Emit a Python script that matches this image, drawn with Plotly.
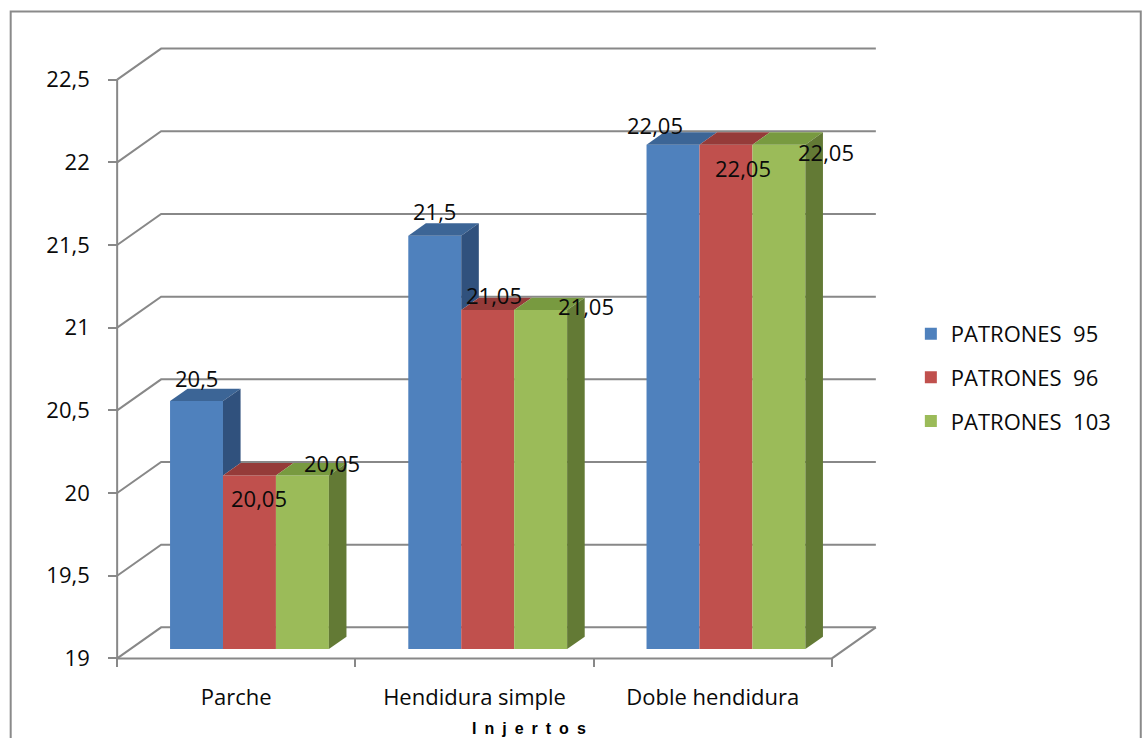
import plotly.graph_objects as go

# ---- data -------------------------------------------------------------
categories = ["Parche", "Hendidura simple", "Doble hendidura"]
series_names = ["PATRONES\u00a0 95", "PATRONES\u00a0 96", "PATRONES\u00a0 103"]
patrones_95 = [20.5, 21.5, 22.05]
patrones_96 = [20.05, 21.05, 22.05]
patrones_103 = [20.05, 21.05, 22.05]
y_ticks = [19, 19.5, 20, 20.5, 21, 21.5, 22, 22.5]
axis_title = "\u2002".join("Injertos")

series_values = [patrones_95, patrones_96, patrones_103]

# ---- styling ----------------------------------------------------------
front_colors = ["#4F81BD", "#C0504D", "#9BBB59"]
top_colors = ["#3C6596", "#953B39", "#789A40"]
side_colors = ["#30517D", "#7E3230", "#637A35"]
grid_color = "#888888"
text_color = "#0A0A0A"
FONT = "Open Sans"

# ---- 3D (oblique) geometry, in axis units -----------------------------
W, H = 1146, 738
PX_X = 238.33          # pixels per category step
PX_Y = 165.14          # pixels per value unit
X_AXIS_PX = 117        # pixel column of the front value axis (x = -0.5)
Y_BASE_PX = 658        # pixel row of the front floor edge (y = 19)
DEPTH_X = 44 / PX_X    # full depth of the box, category units
DEPTH_Y = 31 / PX_Y    # full depth of the box, value units
FRONT_GAP = 0.3        # depth fraction in front of the bars
BAR_DEPTH = 0.4        # depth fraction taken by the bars
BAR_W = 1 / 4.5        # 3 bars + 150 % gap per category
PAD_X, PAD_Y = 0.03, 0.04

Y_MIN, Y_MAX = y_ticks[0], y_ticks[-1]
X_LEFT, X_RIGHT = -0.5, len(categories) - 0.5

x0r, x1r = X_LEFT - PAD_X, X_RIGHT + DEPTH_X + PAD_X
y0r, y1r = Y_MIN - PAD_Y, Y_MAX + DEPTH_Y + PAD_Y

m_l = X_AXIS_PX - PAD_X * PX_X
plot_w = (x1r - x0r) * PX_X
m_r = W - m_l - plot_w
m_b = H - (Y_BASE_PX + PAD_Y * PX_Y)
plot_h = (y1r - y0r) * PX_Y
m_t = H - m_b - plot_h


def paper_x(px):
    return (px - m_l) / plot_w


def paper_y(py):
    return (H - m_b - py) / plot_h


fig = go.Figure()

# ---- walls: gridlines on the back wall, floor, front value axis -------
shapes = []
for v in y_ticks:
    shapes.append(dict(
        type="path", layer="below", xref="x", yref="y",
        path=f"M{X_LEFT},{v} L{X_LEFT + DEPTH_X},{v + DEPTH_Y} L{X_RIGHT + DEPTH_X},{v + DEPTH_Y}",
        line=dict(color=grid_color, width=2)))
shapes.append(dict(
    type="path", layer="below", xref="x", yref="y",
    path=f"M{X_LEFT},{Y_MIN} L{X_RIGHT},{Y_MIN} L{X_RIGHT + DEPTH_X},{Y_MIN + DEPTH_Y}",
    line=dict(color=grid_color, width=2)))
shapes.append(dict(
    type="line", layer="below", xref="x", yref="y",
    x0=X_LEFT, x1=X_LEFT, y0=Y_MIN, y1=Y_MAX,
    line=dict(color=grid_color, width=2)))
# chart frame
shapes.append(dict(
    type="rect", layer="below", xref="paper", yref="paper",
    x0=paper_x(10.5), x1=paper_x(1141), y0=paper_y(770), y1=paper_y(12),
    line=dict(color="#8A8A8A", width=2), fillcolor="rgba(0,0,0,0)"))

# ---- bars ----------------------------------------------------------------
shift_x = FRONT_GAP * DEPTH_X
shift_y = FRONT_GAP * DEPTH_Y
bdx = BAR_DEPTH * DEPTH_X
bdy = BAR_DEPTH * DEPTH_Y
bar_base = Y_MIN + shift_y
n_series = len(series_values)


def bar_center(cat_i, s_i):
    return cat_i + (s_i - (n_series - 1) / 2) * BAR_W + shift_x


# front faces
for s, (name, vals) in enumerate(zip(series_names, series_values)):
    fig.add_trace(go.Bar(
        x=[bar_center(i, s) for i in range(len(categories))],
        y=[v - Y_MIN for v in vals],
        base=bar_base,
        width=BAR_W,
        name=name,
        legendgroup=name,
        marker=dict(color=front_colors[s], line=dict(width=0)),
        hoverinfo="skip",
    ))

# top and side faces
for i in range(len(categories)):
    for s, vals in enumerate(series_values):
        xc = bar_center(i, s)
        xl, xr = xc - BAR_W / 2, xc + BAR_W / 2
        top = vals[i] + shift_y
        fig.add_trace(go.Scatter(
            x=[xl, xr, xr + bdx, xl + bdx, xl],
            y=[top, top, top + bdy, top + bdy, top],
            fill="toself", fillcolor=top_colors[s], mode="lines",
            line=dict(width=0, color=top_colors[s]),
            showlegend=False, hoverinfo="skip"))
        # side face, hidden below the neighbouring bar's top
        side_bottom = bar_base
        if s + 1 < n_series:
            side_bottom = max(side_bottom, series_values[s + 1][i] + shift_y)
        if side_bottom < top:
            fig.add_trace(go.Scatter(
                x=[xr, xr, xr + bdx, xr + bdx, xr],
                y=[side_bottom, top, top + bdy, side_bottom + bdy, side_bottom],
                fill="toself", fillcolor=side_colors[s], mode="lines",
                line=dict(width=0, color=side_colors[s]),
                showlegend=False, hoverinfo="skip"))

# ---- data labels -------------------------------------------------------
label_shifts = [  # (right, down) in pixels, per category then series
    [(0, -23), (10, 23), (30, -12)],
    [(0, -25), (6, -15), (45, -4)],
    [(-18, -20), (17, 23), (47, 7)],
]
annotations = []
for i in range(len(categories)):
    for s, vals in enumerate(series_values):
        dx, dy = label_shifts[i][s]
        annotations.append(dict(
            x=bar_center(i, s), y=vals[i] + shift_y, xref="x", yref="y",
            text=f"{vals[i]:g}".replace(".", ","), showarrow=False,
            xanchor="center", yanchor="middle",
            xshift=dx, yshift=-dy,
            font=dict(family=FONT, size=22, color=text_color)))

annotations.append(dict(
    x=paper_x(529), y=paper_y(728), xref="paper", yref="paper",
    xanchor="center", yanchor="middle",
    text=f"<b>{axis_title}</b>", showarrow=False,
    font=dict(family="Liberation Sans", size=16, color="#000000")))

fig.update_layout(
    width=W, height=H,
    margin=dict(l=m_l, r=m_r, t=m_t, b=m_b, autoexpand=False),
    paper_bgcolor="white", plot_bgcolor="white",
    barmode="overlay",
    shapes=shapes, annotations=annotations,
    font=dict(family=FONT, size=22, color=text_color),
    legend=dict(
        x=paper_x(911), y=paper_y(313), xanchor="left", yanchor="top",
        font=dict(family=FONT, size=22, color=text_color),
        tracegroupgap=12, bgcolor="rgba(0,0,0,0)"),
    xaxis=dict(
        range=[x0r, x1r], anchor="free", position=paper_y(Y_BASE_PX),
        showgrid=False, zeroline=False, showline=False,
        tickmode="array", tickvals=list(range(len(categories))),
        ticktext=categories, ticks="", ticklabelstandoff=24,
        tickfont=dict(family=FONT, size=22, color=text_color),
        minor=dict(tickmode="array",
                   tickvals=[X_LEFT + k for k in range(len(categories) + 1)],
                   ticks="outside", ticklen=8, tickwidth=2, tickcolor=grid_color,
                   showgrid=False),
    ),
    yaxis=dict(
        range=[y0r, y1r], anchor="free", position=paper_x(X_AXIS_PX),
        showgrid=False, zeroline=False, showline=False,
        tickmode="array", tickvals=y_ticks,
        ticktext=[f"{v:g}".replace(".", ",") for v in y_ticks],
        ticks="outside", ticklen=9, tickwidth=2, tickcolor=grid_color,
        ticklabelstandoff=14,
        tickfont=dict(family=FONT, size=22, color=text_color),
    ),
)

fig.write_html("out.html")
